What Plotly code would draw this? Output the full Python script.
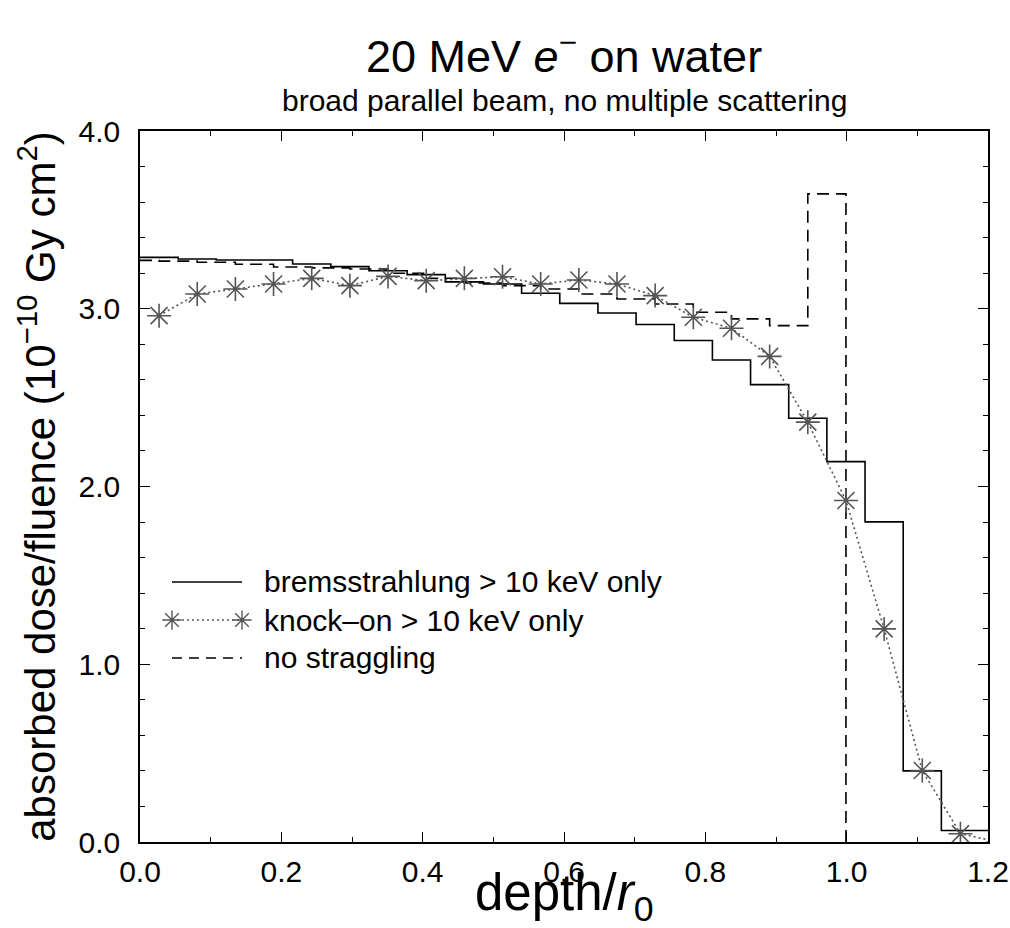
import plotly.graph_objects as go

# ---------------- data ----------------
brems_edges = [0.0, 0.054, 0.108, 0.162, 0.216, 0.270, 0.324, 0.378, 0.432, 0.486,
               0.540, 0.594, 0.648, 0.702, 0.756, 0.810, 0.864, 0.918, 0.972, 1.026,
               1.080, 1.134, 1.200]
brems_dose = [3.289, 3.280, 3.274, 3.274, 3.252, 3.237, 3.214, 3.192, 3.151, 3.139,
              3.087, 3.030, 2.976, 2.911, 2.821, 2.712, 2.573, 2.384, 2.140, 1.801,
              0.400, 0.065]

knock_depth = [0.027, 0.081, 0.135, 0.189, 0.243, 0.297, 0.351, 0.405, 0.459, 0.513,
               0.567, 0.621, 0.675, 0.729, 0.783, 0.837, 0.891, 0.945, 0.999, 1.053,
               1.107, 1.161, 1.215]
knock_dose = [2.961, 3.083, 3.111, 3.139, 3.171, 3.130, 3.182, 3.158, 3.171, 3.180,
              3.139, 3.162, 3.139, 3.074, 2.952, 2.890, 2.732, 2.362, 1.921, 1.199,
              0.402, 0.046, 0.000]

nostrag_edges = [0.0, 0.027, 0.081, 0.135, 0.189, 0.243, 0.297, 0.351, 0.405, 0.459,
                 0.513, 0.567, 0.621, 0.675, 0.729, 0.783, 0.837, 0.891, 0.945, 0.999]
nostrag_dose = [3.272, 3.268, 3.262, 3.250, 3.235, 3.230, 3.224, 3.200, 3.172, 3.145,
                3.130, 3.111, 3.083, 3.055, 3.027, 2.980, 2.943, 2.905, 3.646]

x_ticks = [0.0, 0.2, 0.4, 0.6, 0.8, 1.0, 1.2]
y_ticks = [0.0, 1.0, 2.0, 3.0, 4.0]

legend_labels = ["bremsstrahlung > 10 keV only",
                 "knock\u2013on > 10 keV only",
                 "no straggling"]

FONT = "Liberation Sans, Arial, Helvetica, sans-serif"

# step traces
bx = list(brems_edges)
by = list(brems_dose) + [brems_dose[-1]]
nx = list(nostrag_edges)
ny = list(nostrag_dose) + [0.0]

fig = go.Figure()
fig.add_trace(go.Scatter(x=bx, y=by, mode="lines", line_shape="hv",
                         line=dict(color="black", width=1.6),
                         showlegend=False, name=legend_labels[0]))
fig.add_trace(go.Scatter(x=nx, y=ny, mode="lines", line_shape="hv",
                         line=dict(color="black", width=1.6, dash="12px,7px"),
                         showlegend=False, name=legend_labels[2]))
fig.add_trace(go.Scatter(x=knock_depth, y=knock_dose, mode="lines+markers",
                         line=dict(color="#555555", width=1.6, dash="2px,3px"),
                         marker=dict(symbol="asterisk-open", size=20,
                                     line=dict(color="#2e2e2e", width=1.6)),
                         showlegend=False, name=legend_labels[1]))

# ---------- hand-built legend (keys on an overlay 0..1 frame) ----------
leg_y = [0.3657, 0.3122, 0.2588]
leg_x0, leg_x1, leg_tx = 0.0377, 0.1203, 0.1439
fig.add_trace(go.Scatter(x=[leg_x0, leg_x1], y=[leg_y[0]] * 2, xaxis="x2", yaxis="y2",
                         mode="lines", line=dict(color="black", width=1.6),
                         showlegend=False, hoverinfo="skip"))
fig.add_trace(go.Scatter(x=[leg_x0, leg_x1], y=[leg_y[1]] * 2, xaxis="x2", yaxis="y2",
                         mode="lines+markers",
                         line=dict(color="#555555", width=1.4, dash="2px,3px"),
                         marker=dict(symbol="asterisk-open", size=16,
                                     line=dict(color="#222222", width=1.4)),
                         showlegend=False, hoverinfo="skip"))
fig.add_trace(go.Scatter(x=[leg_x0, leg_x1], y=[leg_y[2]] * 2, xaxis="x2", yaxis="y2",
                         mode="lines", line=dict(color="black", width=1.6, dash="10px,7px"),
                         showlegend=False, hoverinfo="skip"))

annotations = []
for lab, yy in zip(legend_labels, leg_y):
    annotations.append(dict(text=lab, x=leg_tx, y=yy, xref="paper", yref="paper",
                            xanchor="left", yanchor="middle", showarrow=False,
                            font=dict(family=FONT, size=30, color="black")))

annotations.append(dict(text="20 MeV <i>e</i><sup>\u2212</sup> on water",
                        x=0.5, y=1.110, xref="paper", yref="paper",
                        xanchor="center", yanchor="middle", showarrow=False,
                        font=dict(family=FONT, size=45, color="black")))
annotations.append(dict(text="broad parallel beam, no multiple scattering",
                        x=0.5, y=1.0436, xref="paper", yref="paper",
                        xanchor="center", yanchor="middle", showarrow=False,
                        font=dict(family=FONT, size=30, color="black")))
# x-axis title placed as an annotation so it sits clear of the tick labels
annotations.append(dict(text="depth/<i>r</i><sub>0</sub>",
                        x=0.5, y=-0.0760, xref="paper", yref="paper",
                        xanchor="center", yanchor="middle", showarrow=False,
                        font=dict(family=FONT, size=51, color="black")))

axis_common = dict(showline=True, linecolor="black", linewidth=1.6, mirror="allticks",
                   ticks="inside", ticklen=10, tickwidth=1.4, tickcolor="black",
                   showgrid=False, zeroline=False, automargin=False,
                   tickfont=dict(family=FONT, size=30, color="black"))

fig.update_layout(
    width=1010, height=928,
    margin=dict(l=140, r=22, t=131, b=86),
    paper_bgcolor="white", plot_bgcolor="white",
    showlegend=False,
    annotations=annotations,
    xaxis=dict(range=[0, 1.2], tickvals=x_ticks, tickformat=".1f",
               ticklabelstandoff=2,
               minor=dict(dtick=0.1, ticks="inside", ticklen=5, tickcolor="black", tickwidth=1.2),
               **axis_common),
    yaxis=dict(range=[0, 4], tickvals=y_ticks, tickformat=".1f",
               ticklabelstandoff=12,
               minor=dict(dtick=0.2, ticks="inside", ticklen=5, tickcolor="black", tickwidth=1.2),
               title=dict(text="absorbed dose/fluence (10<sup>\u221210</sup> Gy cm<sup>2</sup>)",
                          standoff=10, font=dict(family=FONT, size=42, color="black")),
               **axis_common),
    xaxis2=dict(overlaying="x", range=[0, 1], visible=False, fixedrange=True),
    yaxis2=dict(overlaying="y", range=[0, 1], visible=False, fixedrange=True),
)

fig.write_html("out.html", config={"displayModeBar": False},
               post_script="document.body.style.margin='0';")
